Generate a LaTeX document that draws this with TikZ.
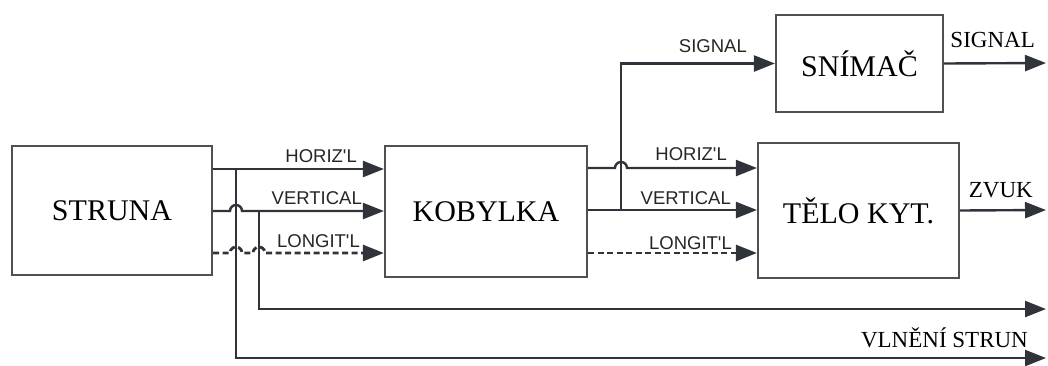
\documentclass[tikz,border=0pt]{standalone}
\usepackage{fontspec}
\setmainfont{Liberation Serif}
\newfontfamily\labfont{Liberation Sans}
\usetikzlibrary{arrows.meta}
\definecolor{linec}{HTML}{30343A}
\definecolor{boxc}{HTML}{505050}
\begin{document}
\begin{tikzpicture}[x=1pt,y=-1pt,
  blk/.style={draw=boxc,line width=2.2pt,fill=white,inner sep=0pt,font=\fontsize{30}{36}\selectfont},
  conn/.style={draw=linec,line width=2.4pt},
  arr/.style={conn,-{Triangle[length=21pt,width=16pt]}},
  dsh/.style={line width=2.8pt,dash pattern=on 6pt off 3.5pt},
  slab/.style={anchor=base east,inner sep=0pt,font=\labfont\fontsize{18.5}{21}\selectfont,text=black!85},
  olab/.style={anchor=base east,inner sep=0pt,font=\fontsize{23}{26}\selectfont,text=black}]
\useasboundingbox (0,0) rectangle (1048,365);
% blocks
\node[blk,minimum width=200pt,minimum height=129pt] (struna) at (112,210.5) {STRUNA};
\node[blk,minimum width=202pt,minimum height=131pt] (kob) at (486,211.5) {KOBYLKA};
\node[blk,minimum width=167pt,minimum height=97pt] (snim) at (859.5,63.5) {SNÍMAČ};
\node[blk,minimum width=201pt,minimum height=135pt] (telo) at (858.5,210.5) {TĚLO KYT.};
% coordinates
\coordinate (sh) at (struna.east |- 0,169);
\coordinate (sv) at (struna.east |- 0,211);
\coordinate (sl) at (struna.east |- 0,253);
\coordinate (kh) at (kob.west |- 0,169);
\coordinate (kv) at (kob.west |- 0,211);
\coordinate (kl) at (kob.west |- 0,253);
\coordinate (ko1) at (kob.east |- 0,168);
\coordinate (ko2) at (kob.east |- 0,210);
\coordinate (ko3) at (kob.east |- 0,253);
\coordinate (th) at (telo.west |- 0,168);
\coordinate (tv) at (telo.west |- 0,210);
\coordinate (tl) at (telo.west |- 0,253);
\coordinate (tapA) at (236,169);
\coordinate (tapB) at (259,211);
\coordinate (tapC) at (621,210);
\coordinate (out1) at (1046,309);
\coordinate (out2) at (1046,358);
\coordinate (outS) at (1046,63);
\coordinate (outZ) at (1046,210);
% STRUNA -> KOBYLKA
\draw[arr] (sh) -- (kh);
\draw[arr] (sv) -- (230,211) arc (180:360:6) -- (kv);
\draw[arr,dsh] (sl) -- (230,253) arc (180:360:6) -- (253,253) arc (180:360:6) -- (kl);
% taps to bottom
\draw[arr] (tapA) |- (out2);
\draw[arr] (tapB) |- (out1);
% KOBYLKA -> TELO
\draw[arr] (ko1) -- (615,168) arc (180:360:6) -- (th);
\draw[arr] (ko2) -- (tv);
\draw[arr,dsh] (ko3) -- (tl);
\draw[arr] (tapC) |- (snim.west);
% outputs
\draw[arr] (snim.east) -- (outS);
\draw[arr] (telo.east) -- (outZ);
% labels
\node[slab] (l1) at (357,162) {HORIZ'L};
\node[slab] (l2) at (362,204) {VERTICAL};
\node[slab] (l3) at (360,247) {LONGIT'L};
\node[slab] (l4) at (747,52) {SIGNAL};
\node[slab] (l5) at (727,160) {HORIZ'L};
\node[slab] (l6) at (731,204) {VERTICAL};
\node[slab] (l7) at (732,249) {LONGIT'L};
\node[olab] (o1) at (1035,47) {SIGNAL};
\node[olab] (o2) at (1033,197) {ZVUK};
\node[olab] (o3) at (1028,347) {VLNĚNÍ STRUN};
\end{tikzpicture}
\end{document}
